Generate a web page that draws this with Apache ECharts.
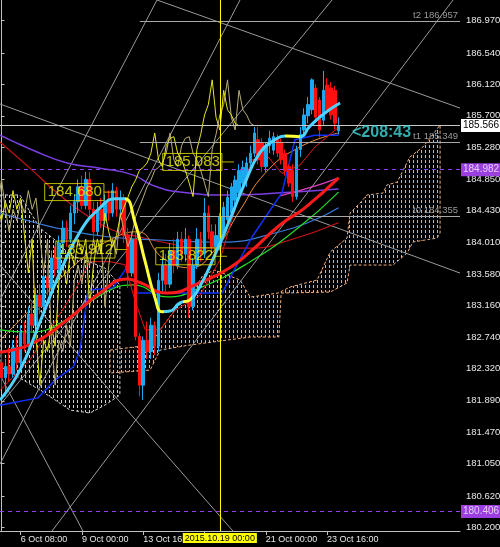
<!DOCTYPE html>
<html><head><meta charset="utf-8">
<script src="https://cdn.jsdelivr.net/npm/echarts@6/dist/echarts.min.js"></script>
<style>html,body{margin:0;padding:0;background:#000;}#c{width:500px;height:547px;}</style>
</head><body><div id="c"></div>
<script>
// ---- candles (bar index, H4) ----
const barOpen  = [182.40,182.20,182.35,182.25,182.60,182.40,182.80,182.65,183.05,182.90,183.30,183.15,183.55,183.40,183.80,183.65,184.00,184.20,184.05,184.40,184.55,184.75,184.50,184.85,184.45,184.15,184.45,184.30,184.55,184.40,184.70,184.45,184.60,184.10,183.60,184.05,182.75,182.10,182.70,182.55,182.90,182.62,183.50,183.70,183.45,183.90,183.70,184.05,183.85,184.05,183.15,183.70,184.05,183.85,184.40,184.15,183.95,183.95,184.13,184.31,184.40,184.57,184.67,184.80,184.84,185.07,185.20,185.38,185.34,185.02,185.30,185.24,185.38,185.34,185.20,185.02,184.97,184.62,185.25,185.51,185.70,185.78,186.07,185.91,185.64,186.11,186.07,186.04,185.50];
const barHigh  = [182.55,182.45,182.60,182.70,182.75,182.90,182.95,183.15,183.20,183.40,183.45,183.65,183.70,183.90,183.95,184.10,184.30,184.30,184.50,184.65,184.85,184.90,184.95,184.95,184.55,184.55,184.60,184.65,184.70,184.80,184.75,184.70,184.65,184.20,184.15,184.15,182.80,182.75,182.95,183.00,182.95,183.60,183.80,183.85,184.00,184.05,184.15,184.15,184.20,184.10,183.80,184.20,184.15,184.60,184.50,184.25,184.25,184.40,184.55,184.70,184.80,184.90,185.05,185.10,185.15,185.30,185.55,185.55,185.40,185.35,185.50,185.48,185.45,185.40,185.25,185.05,185.05,185.30,185.55,185.80,185.95,186.20,186.12,185.95,186.30,186.20,186.15,186.10,185.68];
const barLow   = [182.05,181.95,182.15,182.20,182.30,182.35,182.55,182.60,182.80,182.85,183.05,183.10,183.30,183.35,183.55,183.60,183.85,183.95,184.00,184.25,184.40,184.45,184.45,184.35,184.00,184.10,184.20,184.25,184.30,184.35,184.35,184.35,184.00,183.40,183.55,182.70,181.95,181.90,182.45,182.45,182.50,182.55,183.35,183.35,183.40,183.60,183.65,183.75,183.75,183.00,183.10,183.65,183.75,183.80,184.05,183.85,183.85,183.90,184.05,184.25,184.35,184.50,184.60,184.75,184.75,184.95,185.15,185.05,184.95,184.95,185.20,185.18,185.15,185.05,184.90,184.75,184.55,184.58,185.15,185.45,185.60,185.72,185.62,185.41,185.58,185.72,185.65,185.52,185.45];
const barClose = [182.20,182.35,182.25,182.60,182.40,182.80,182.65,183.05,182.90,183.30,183.15,183.55,183.40,183.80,183.65,184.00,184.20,184.05,184.40,184.55,184.75,184.50,184.85,184.45,184.15,184.45,184.30,184.55,184.40,184.70,184.45,184.60,184.10,183.60,184.05,182.75,182.10,182.70,182.55,182.90,182.62,183.50,183.70,183.45,183.90,183.70,184.05,183.85,184.05,183.15,183.70,184.05,183.85,184.40,184.15,183.95,184.10,184.35,184.48,184.61,184.75,184.84,184.97,185.01,185.07,185.20,185.47,185.11,185.02,185.30,185.40,185.42,185.20,185.11,184.97,184.80,184.62,185.25,185.45,185.71,185.85,186.18,185.68,185.51,186.04,185.78,185.71,185.60,185.566];

// ---- indicator lines, [bar, price] ----
const hullLine = [[-0.4,181.90],[4.8,182.30],[10.0,182.94],[15.3,183.61],[20.5,184.15],[25.7,184.47],[29.6,184.59],[32.2,184.59],[34.8,184.28],[37.5,183.75],[40.1,183.26],[41.9,183.08],[44.0,183.09],[46.6,183.20],[49.2,183.24],[51.8,183.42],[55.7,183.84],[59.6,184.31],[63.6,184.81],[67.5,185.21],[71.4,185.38],[74.0,185.43],[77.9,185.42],[80.5,185.56],[84.5,185.74],[88.4,185.87]];
const hullDownRanges = [[32.2,42.5],[47.5,49.8],[74.0,77.9]];
const purpleMA  = [[-0.4,185.44],[8.2,185.24],[17.1,185.07],[25.7,185.00],[34.3,184.91],[39.5,184.77],[46.6,184.68],[59.6,184.64],[73.2,184.67],[88.0,184.72]];
const darkRedMA = [[-0.4,185.35],[7.4,185.00],[14.5,184.67],[21.3,184.40],[29.1,184.17],[36.9,184.07],[43.2,184.00],[51.8,183.93],[64.9,183.93],[75.3,184.04],[88.0,184.27]];
const steelMA   = [[-0.4,184.40],[8.2,184.28],[17.1,184.17],[28.3,184.08],[41.4,184.04],[57.0,184.01],[72.7,184.15],[81.8,184.31],[88.0,184.47]];
const redMA     = [[-0.4,182.54],[8.2,182.66],[17.1,182.97],[25.7,183.33],[32.8,183.52],[36.2,183.47],[43.2,183.33],[51.8,183.47],[59.6,183.67],[64.9,183.88],[72.7,184.24],[79.2,184.47],[88.0,184.87]];
const greenMA   = [[-0.4,182.84],[7.4,182.81],[17.1,182.98],[25.7,183.30],[34.3,183.44],[43.2,183.28],[51.8,183.40],[64.9,183.75],[77.4,184.20],[88.0,184.68]];
const orangeMA  = [[-0.4,182.70],[10.0,183.24],[20.5,183.77],[28.3,184.04],[35.4,184.15],[42.1,183.80],[49.2,183.67],[55.7,183.91],[62.3,184.44],[68.8,184.93],[77.4,185.27],[88.0,185.47]];
const magentaMA = [[72.7,184.63],[81.8,184.76],[88.0,184.87]];
const kijunLine = [[-0.4,181.83],[9.5,181.93],[14.0,182.17],[18.7,182.34],[20.5,182.57],[22.6,183.37],[29.1,183.40],[32.8,183.68],[34.3,183.67],[35.4,183.33],[45.8,183.33],[57.6,183.33],[61.5,183.71],[65.4,184.08],[73.2,184.67],[76.6,185.38],[81.8,185.44],[88.0,185.44]];
const tenkanLine = [[-0.4,182.03],[7.4,182.44],[12.6,182.84],[19.2,183.37],[23.1,183.75],[28.3,183.75],[32.2,183.71],[34.8,183.24],[37.5,182.84],[41.4,182.84],[45.3,183.10],[51.8,183.30],[57.0,183.77],[60.9,184.44],[65.4,185.11],[69.6,185.15],[73.2,184.93],[77.9,185.04],[81.8,185.28],[87.1,185.51],[88.0,185.54]];
const chikouShiftA = 26, chikouShiftB = 22;

// ---- clouds ----
const peachTop = [[28.3,182.569],[38.8,182.636],[41.4,182.837],[45.8,183.144],[49.2,183.277],[52.6,183.571],[55.7,183.638],[62.3,183.505],[64.9,183.277],[72.2,183.331],[75.3,183.411],[82.4,183.505],[85.8,183.879],[90.2,184.066],[91.0,184.400],[93.6,184.534],[95.4,184.641],[99.6,184.667],[100.6,184.774],[103.3,184.814],[106.6,185.148],[110.0,185.282],[111.9,185.402],[114.5,185.576]];
const peachBottom = [[28.3,182.262],[38.8,182.302],[41.4,182.569],[49.2,182.636],[64.9,182.743],[72.4,182.743],[73.0,183.331],[85.8,183.344],[90.2,183.465],[91.0,183.705],[102.2,183.705],[105.9,183.866],[107.4,184.012],[113.7,184.066],[114.5,184.133]];
const whiteTop = [[-0.4,184.641],[4.8,184.641],[10.0,184.200],[14.0,184.039],[17.9,183.839],[23.1,183.745],[27.0,183.665],[30.9,183.438]];
const whiteBottom = [[-0.4,182.369],[4.8,182.195],[10.0,182.035],[14.0,181.901],[17.9,181.767],[23.1,181.727],[27.0,181.834],[30.9,181.968]];

// ---- fan / trend lines ----
const fanLines = [
  [[40.59,187.247],[-0.40,183.237]],
  [[62.26,187.247],[-0.40,181.046]],
  [[117.87,187.247],[13.17,180.150]],
  [[86.28,187.247],[-0.40,181.834]],
  [[40.59,187.247],[119.70,185.803]],
  [[-0.40,185.857],[119.70,183.598]],
  [[-0.40,183.705],[60.43,180.150]],
  [[-0.40,182.235],[21.27,180.150]]
];

// ---- levels & labels ----
const bidPrice = 185.566;
const purpleLevels = [184.982, 180.406];
const targetNames = ['t2','t1','t0'];
const targetPrices = [186.957, 185.349, 184.355];
const targetStart = 36.1;
const vlineBar = 57, vlineText = '2015.10.19 00:00';
const tagBars = [28.3, 31.2, 59.1, 57.3];
const tagPrices = [184.680, 183.912, 185.083, 183.822];
const timerText = '<208:43', timerPos = [91.5, 185.469];
const yTicks = [186.97,186.54,186.12,185.70,185.28,184.85,184.43,184.01,183.58,183.16,182.74,182.32,181.89,181.47,181.05,180.62,180.20];
const xTickBars = [5,21,37,53,69,85];
const xLabelBars = [5,21,37,69,85];
const xLabelTexts = ['6 Oct 08:00','9 Oct 00:00','13 Oct 16:00','21 Oct 00:00','23 Oct 16:00'];

const FONT = "'Liberation Sans',Arial,sans-serif";
function dotPattern(color){const c=document.createElement('canvas');c.width=4;c.height=5;const g=c.getContext('2d');g.fillStyle=color;g.fillRect(1,0,1,3);return c;}
function cloudSeries(top,bottom,color){
  const pat=dotPattern(color);
  return {type:'custom',z:1,silent:true,clip:true,data:[[top[0][0],top[0][1]]],
    renderItem:(params,api)=>{
      const pts=top.map(p=>api.coord(p)).concat(bottom.slice().reverse().map(p=>api.coord(p)));
      return {type:'polygon',shape:{points:pts},style:{fill:{image:pat,repeat:'repeat'},stroke:color,lineWidth:1,lineDash:[3,2]}};
    }};
}
function lineS(data,color,width,smooth,z){return {type:'line',data:data,symbol:'none',smooth:smooth,z:z||3,silent:true,lineStyle:{color:color,width:width}};}

const series = [];
series.push(cloudSeries(whiteTop,whiteBottom,'#D0D0D0'));
series.push(cloudSeries(peachTop,peachBottom,'#EDAE7C'));
fanLines.forEach(f=>series.push(lineS(f,'#9A9A9A',1,false,2)));
series.push({type:'candlestick',z:3,silent:true,barWidth:3,
  data:barOpen.map((o,i)=>[i,o,barClose[i],barLow[i],barHigh[i]]),
  encode:{x:0,y:[1,2,3,4]},
  itemStyle:{color:'#1CA8EE',color0:'#FF1010',borderColor:'#1CA8EE',borderColor0:'#FF1010',borderWidth:1}});
series.push(lineS(barClose.map((c,i)=>[i-chikouShiftB,c]),'#B8AC78',1,false,4));
series.push(lineS(barClose.map((c,i)=>[i-chikouShiftA,c]),'#E6E619',1,false,4));
series.push(lineS(purpleMA,'#7B3FE4',1.5,true));
series.push(lineS(darkRedMA,'#C81414',1.2,true));
series.push(lineS(steelMA,'#3A78D8',1.2,true));
series.push(lineS(orangeMA,'#E8903A',1,true));
series.push(lineS(greenMA,'#22DD22',1.2,true));
series.push(lineS(magentaMA,'#E040C0',1.2,true));
series.push(lineS(kijunLine,'#1030FF',1.5,false));
series.push(lineS(tenkanLine,'#E01818',1,false));
series.push(lineS(redMA,'#FF1A1A',3,true,5));
const hullIndex = series.length;
series.push({type:'line',data:hullLine,symbol:'none',smooth:true,z:6,silent:true,lineStyle:{width:3}});

const pieces=[]; let prev=-1e9;
hullDownRanges.forEach(r=>{pieces.push({gte:prev,lt:r[0],color:'#4FD2FF'});pieces.push({gte:r[0],lt:r[1],color:'#FFFF3C'});prev=r[1];});
pieces.push({gte:prev,lt:1e9,color:'#4FD2FF'});

const mlData = [];
mlData.push({yAxis:bidPrice,lineStyle:{color:'#C8C8C8',type:'solid',width:1},
  label:{show:true,position:'end',distance:1,formatter:bidPrice.toFixed(3),backgroundColor:'#FFFFFF',color:'#000',padding:[2,2,1,2],fontSize:10,fontFamily:FONT}});
purpleLevels.forEach(v=>mlData.push({yAxis:v,lineStyle:{color:'#8E44E8',type:[4,4],width:1},
  label:{show:true,position:'end',distance:1,formatter:v.toFixed(3),backgroundColor:'#9B3FE0',color:'#E6CCFF',padding:[2,2,1,2],fontSize:10,fontFamily:FONT}}));
targetPrices.forEach((v,i)=>mlData.push([{coord:[targetStart,v],lineStyle:{color:'#A8A8A8',type:'solid',width:1},
  label:{show:true,position:'insideEndTop',distance:[2,1],formatter:targetNames[i]+' '+v.toFixed(3),color:'#9A9A9A',fontSize:9.5,fontFamily:FONT}},{coord:[119.7,v]}]));
mlData.push({xAxis:vlineBar,lineStyle:{color:'#FFFF00',type:'solid',width:1},
  label:{show:true,position:'start',distance:2,formatter:vlineText,backgroundColor:'#FFFF00',color:'#000',padding:[1,2,0,2],fontSize:9,fontFamily:FONT}});
series.push({type:'line',data:[],z:7,silent:true,markLine:{silent:true,symbol:['none','none'],animation:false,data:mlData}});

series.push({type:'scatter',z:9,silent:true,data:tagBars.map((k,i)=>[k,tagPrices[i]]),symbol:'rect',symbolSize:[12,1],
  itemStyle:{color:'#E8E800'},
  label:{show:true,position:'left',distance:0,formatter:p=>p.value[1].toFixed(3),color:'#F0F000',fontSize:15,fontFamily:FONT,borderColor:'#E8E800',borderWidth:1,padding:[2,2,0,3]}});
series.push({type:'scatter',z:9,silent:true,data:[timerPos],symbolSize:0,
  label:{show:true,position:'right',distance:0,formatter:timerText,color:'#3ED8D8',fontSize:16,fontWeight:'bold',fontFamily:FONT}});

const chart = echarts.init(document.getElementById('c'),null,{renderer:'canvas'});
chart.setOption({
  backgroundColor:'#000000',
  animation:false,
  grid:{left:0,right:40,top:0,bottom:16,containLabel:false,outerBoundsMode:'none'},
  xAxis:{type:'value',min:-0.4,max:119.7,
    axisLine:{show:true,lineStyle:{color:'#C0C0C0'}},
    axisTick:{show:true,customValues:xTickBars,length:4,lineStyle:{color:'#C0C0C0'}},
    axisLabel:{customValues:xLabelBars,formatter:v=>{const i=xLabelBars.indexOf(Math.round(v));return i>=0?xLabelTexts[i]:'';},align:'left',color:'#E8E8E8',fontSize:9,fontFamily:FONT,margin:4},
    splitLine:{show:false}},
  yAxis:{type:'value',position:'right',min:180.151,max:187.247,scale:true,
    axisLine:{show:true,lineStyle:{color:'#C0C0C0'}},
    axisTick:{show:true,customValues:yTicks,length:3,lineStyle:{color:'#C0C0C0'}},
    axisLabel:{customValues:yTicks,formatter:v=>v.toFixed(3),color:'#E8E8E8',fontSize:9.5,fontFamily:FONT,margin:6},
    splitLine:{show:false}},
  visualMap:[{type:'piecewise',show:false,seriesIndex:hullIndex,dimension:0,pieces:pieces}],
  series:series
});
</script></body></html>
